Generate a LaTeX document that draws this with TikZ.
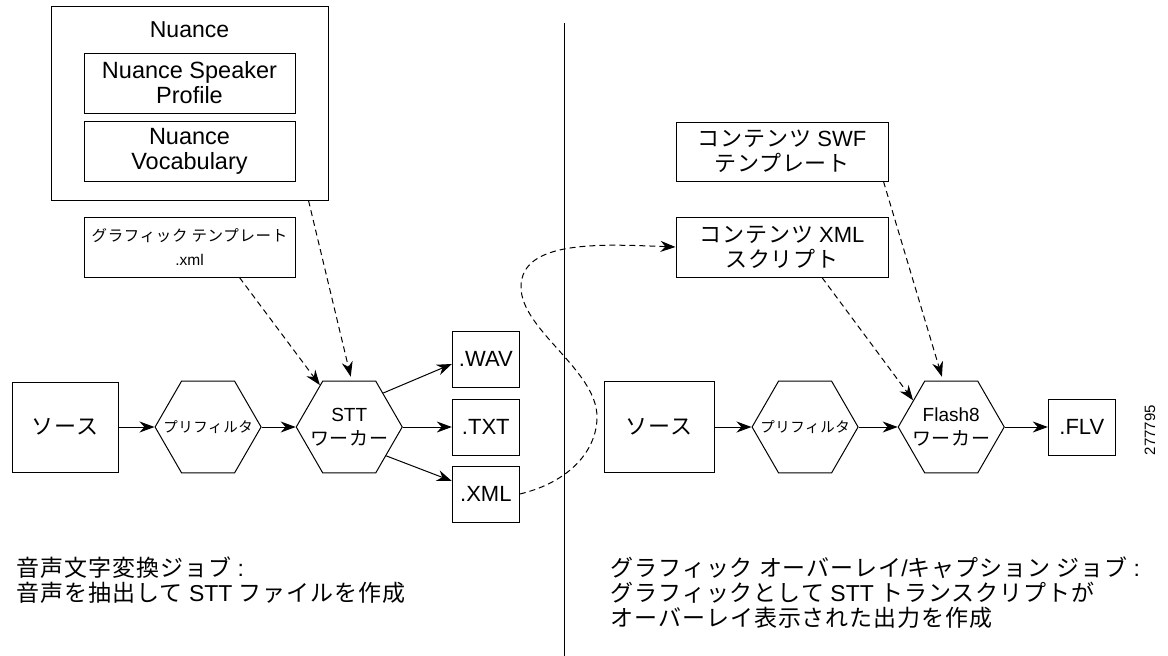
\documentclass[tikz,border=0pt]{standalone}
\usepackage{fontspec}
\setmainfont{Liberation Sans}
\newfontfamily\jpfont[LetterSpace=4]{Noto Sans CJK JP}
\newcommand{\jp}[1]{{\jpfont #1}}
\usetikzlibrary{arrows.meta, calc, positioning, shapes.geometric}

\begin{document}
\begin{tikzpicture}[x=1pt, y=-1pt, >=Stealth, line width=1pt,
    box/.style={draw, rectangle, align=center, inner sep=0pt},
    hexnode/.style={draw, regular polygon, regular polygon sides=6, minimum size=106pt, inner sep=0pt},
    flow/.style={-{Stealth[length=15pt, width=11pt]}},
    feed/.style={flow, dash pattern=on 6pt off 4pt},
    big/.style={font=\fontsize{22}{25}\selectfont},
    mid/.style={font=\fontsize{19}{24}\selectfont},
    small/.style={font=\fontsize{14.5}{20}\selectfont}]

    \useasboundingbox (0,0) rectangle (1168,656);

    % speech to text job
    \node[box, minimum width=277pt, minimum height=194pt] (nuance) at (189.5,103) {};
    \node[font=\fontsize{23}{25}\selectfont] (nuancelbl) at (189.5,30) {Nuance};
    \node[box, font=\fontsize{23.5}{25}\selectfont, minimum width=211pt, minimum height=60pt] (profile) at (189.5,83) {Nuance Speaker\\Profile};
    \node[box, font=\fontsize{23.5}{25}\selectfont, minimum width=211pt, minimum height=60pt] (vocab) at (189.5,151) {Nuance\\Vocabulary};
    \node[box, minimum width=211pt, minimum height=60pt, font=\fontsize{15.5}{24}\selectfont] (gfx) at (189.5,247) {\jp{グラフィック テンプレート}\\.xml};

    \node[box, big, minimum width=106pt, minimum height=90pt] (src) at (65,427) {\jp{ソース}};
    \node[hexnode, right=36pt of src, label={[small]center:\jp{プリフィルタ}}] (pre) {};
    \node[hexnode, right=34pt of pre, label={[mid, align=center]center:STT\\\jp{ワーカー}}] (stt) {};
    \node[box, big, minimum width=67pt, minimum height=56pt, right=49pt of stt] (txt) {.TXT};
    \node[box, big, minimum width=67pt, minimum height=56pt, above=11pt of txt] (wav) {.WAV};
    \node[box, big, minimum width=67pt, minimum height=56pt, below=10pt of txt] (xml) {.XML};

    % overlay / caption job
    \node[box, big, minimum width=212pt, minimum height=59pt] (swf) at (782,151.5) {\jp{コンテンツ} SWF\\\jp{テンプレート}};
    \node[box, big, minimum width=212pt, minimum height=60pt] (cxml) at (782,247) {\jp{コンテンツ} XML\\\jp{スクリプト}};
    \node[box, big, minimum width=110pt, minimum height=91pt] (src2) at (659,427) {\jp{ソース}};
    \node[hexnode, right=37pt of src2, label={[small]center:\jp{プリフィルタ}}] (pre2) {};
    \node[hexnode, right=39pt of pre2, label={[mid, align=center]center:Flash8\\\jp{ワーカー}}] (flash) {};
    \node[box, big, minimum width=67pt, minimum height=56pt, right=43pt of flash] (flv) {.FLV};

    \node[font=\fontsize{15}{15}\selectfont, rotate=90] (figid) at (1150,430) {277795};

    \coordinate (divtop) at (564,23);
    \coordinate (divbot) at (564,656);
    \draw (divtop) -- (divbot);

    \node[anchor=west, align=left, font=\fontsize{23}{25}\selectfont] (capl) at (13,580)
        {\jp{音声文字変換ジョブ} :\\\jp{音声を抽出して} STT \jp{ファイルを作成}};
    \node[anchor=west, align=left, font=\fontsize{23}{25}\selectfont] (capr) at (607,593)
        {\jp{グラフィック オーバーレイ}/\jp{キャプション ジョブ} :\\\jp{グラフィックとして} STT \jp{トランスクリプトが}\\\jp{オーバーレイ表示された出力を作成}};

    \draw[flow] (src) -- (pre);
    \draw[flow] (pre) -- (stt);
    \draw[flow] (stt.45) -- ($(wav.west)+(0,5)$);
    \draw[flow] (stt) -- (txt);
    \draw[flow] (stt.-38) -- ($(xml.west)+(0,-13)$);

    \draw[flow] (src2) -- (pre2);
    \draw[flow] (pre2) -- (flash);
    \draw[flow] (flash) -- (flv);

    \draw[feed, shorten >=4pt] ($(nuance.south east)+(-20,0)$) -- (stt.87);
    \draw[feed] ($(gfx.south)+(50,0)$) -- (stt.125);
    \draw[feed, shorten >=4pt] ($(swf.south east)+(-5,0)$) -- (flash.100);
    \draw[feed] ($(cxml.south)+(40,0)$) -- (flash.145);
    \draw[feed] (xml.east) .. controls (570,482) and (597,450) .. (597,417)
        .. controls (597,370) and (521,330) .. (521,287)
        .. controls (521,240) and (600,244) .. (cxml.west);
\end{tikzpicture}
\end{document}
